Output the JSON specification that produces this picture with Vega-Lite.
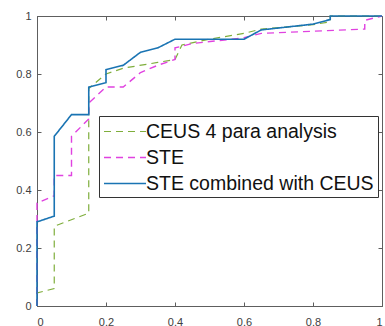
{
  "$schema": "https://vega.github.io/schema/vega-lite/v6.json",
  "width": 345,
  "height": 290,
  "autosize": {"type": "none"},
  "padding": {"left": 37, "top": 16, "right": 3, "bottom": 20},
  "background": "white",
  "config": {
    "font": "Liberation Sans",
    "view": {"stroke": "#5e5e5e", "strokeWidth": 1},
    "axis": {
      "grid": false,
      "title": null,
      "format": "~g",
      "labelFont": "Liberation Sans",
      "labelFontSize": 11,
      "labelColor": "#404040",
      "domainColor": "#5e5e5e",
      "tickColor": "#5e5e5e",
      "tickSize": -4
    },
    "legend": {
      "title": null,
      "orient": "none",
      "legendX": 62,
      "legendY": 100,
      "symbolType": "M-1,0H3",
      "symbolSize": 441,
      "labelFontSize": 19.5,
      "labelFont": "Liberation Sans",
      "labelColor": "#111",
      "labelLimit": 400,
      "labelOffset": 20,
      "rowPadding": 5,
      "padding": 4,
      "strokeColor": "#333",
      "fillColor": "white"
    }
  },
  "data": {
    "values": [
      {"s": "CEUS 4 para analysis", "x": 0, "y": 0},
      {"s": "CEUS 4 para analysis", "x": 0, "y": 0.045},
      {"s": "CEUS 4 para analysis", "x": 0.05, "y": 0.06},
      {"s": "CEUS 4 para analysis", "x": 0.05, "y": 0.275},
      {"s": "CEUS 4 para analysis", "x": 0.15, "y": 0.32},
      {"s": "CEUS 4 para analysis", "x": 0.15, "y": 0.75},
      {"s": "CEUS 4 para analysis", "x": 0.2, "y": 0.8},
      {"s": "CEUS 4 para analysis", "x": 0.25, "y": 0.82},
      {"s": "CEUS 4 para analysis", "x": 0.35, "y": 0.84},
      {"s": "CEUS 4 para analysis", "x": 0.4, "y": 0.85},
      {"s": "CEUS 4 para analysis", "x": 0.42, "y": 0.9},
      {"s": "CEUS 4 para analysis", "x": 0.5, "y": 0.92},
      {"s": "CEUS 4 para analysis", "x": 0.6, "y": 0.94},
      {"s": "CEUS 4 para analysis", "x": 0.65, "y": 0.955},
      {"s": "CEUS 4 para analysis", "x": 0.8, "y": 0.97},
      {"s": "CEUS 4 para analysis", "x": 0.85, "y": 0.98},
      {"s": "CEUS 4 para analysis", "x": 0.85, "y": 1},
      {"s": "CEUS 4 para analysis", "x": 1, "y": 1},
      {"s": "STE", "x": 0, "y": 0},
      {"s": "STE", "x": 0, "y": 0.355},
      {"s": "STE", "x": 0.05, "y": 0.38},
      {"s": "STE", "x": 0.05, "y": 0.45},
      {"s": "STE", "x": 0.1, "y": 0.45},
      {"s": "STE", "x": 0.1, "y": 0.585},
      {"s": "STE", "x": 0.15, "y": 0.645},
      {"s": "STE", "x": 0.15, "y": 0.7},
      {"s": "STE", "x": 0.2, "y": 0.755},
      {"s": "STE", "x": 0.25, "y": 0.755},
      {"s": "STE", "x": 0.3, "y": 0.805},
      {"s": "STE", "x": 0.35, "y": 0.83},
      {"s": "STE", "x": 0.4, "y": 0.85},
      {"s": "STE", "x": 0.4, "y": 0.89},
      {"s": "STE", "x": 0.45, "y": 0.905},
      {"s": "STE", "x": 0.6, "y": 0.925},
      {"s": "STE", "x": 0.65, "y": 0.94},
      {"s": "STE", "x": 0.95, "y": 0.955},
      {"s": "STE", "x": 0.95, "y": 0.985},
      {"s": "STE", "x": 1, "y": 1},
      {"s": "STE combined with CEUS", "x": 0, "y": 0},
      {"s": "STE combined with CEUS", "x": 0, "y": 0.29},
      {"s": "STE combined with CEUS", "x": 0.05, "y": 0.31},
      {"s": "STE combined with CEUS", "x": 0.05, "y": 0.585},
      {"s": "STE combined with CEUS", "x": 0.1, "y": 0.66},
      {"s": "STE combined with CEUS", "x": 0.15, "y": 0.66},
      {"s": "STE combined with CEUS", "x": 0.15, "y": 0.755},
      {"s": "STE combined with CEUS", "x": 0.2, "y": 0.77},
      {"s": "STE combined with CEUS", "x": 0.2, "y": 0.815},
      {"s": "STE combined with CEUS", "x": 0.25, "y": 0.83},
      {"s": "STE combined with CEUS", "x": 0.3, "y": 0.875},
      {"s": "STE combined with CEUS", "x": 0.35, "y": 0.89},
      {"s": "STE combined with CEUS", "x": 0.4, "y": 0.92},
      {"s": "STE combined with CEUS", "x": 0.6, "y": 0.92},
      {"s": "STE combined with CEUS", "x": 0.65, "y": 0.952},
      {"s": "STE combined with CEUS", "x": 0.8, "y": 0.972},
      {"s": "STE combined with CEUS", "x": 0.85, "y": 0.988},
      {"s": "STE combined with CEUS", "x": 0.85, "y": 1},
      {"s": "STE combined with CEUS", "x": 1, "y": 1}
    ]
  },
  "layer": [
    {
      "mark": {"type": "line", "strokeJoin": "miter"},
      "encoding": {
        "x": {"field": "x", "type": "quantitative", "scale": {"domain": [0, 1], "nice": false},
              "axis": {"orient": "bottom", "labelPadding": 14, "format": "~g", "values": [0, 0.2, 0.4, 0.6, 0.8, 1]}},
        "y": {"field": "y", "type": "quantitative", "scale": {"domain": [0, 1], "nice": false},
              "axis": {"orient": "left", "labelPadding": 10, "format": "~g", "values": [0, 0.2, 0.4, 0.6, 0.8, 1]}},
        "order": {"value": null},
        "color": {
          "field": "s", "type": "nominal",
          "scale": {"domain": ["CEUS 4 para analysis", "STE", "STE combined with CEUS"],
                    "range": ["#7fae3c", "#e042e0", "#1a74b3"]},
          "legend": {"title": null}
        },
        "strokeDash": {
          "field": "s", "type": "nominal",
          "scale": {"domain": ["CEUS 4 para analysis", "STE", "STE combined with CEUS"],
                    "range": [[7, 5], [7, 5], [1, 0]]},
          "legend": {"title": null}
        },
        "strokeWidth": {
          "field": "s", "type": "nominal",
          "scale": {"domain": ["CEUS 4 para analysis", "STE", "STE combined with CEUS"],
                    "range": [1.2, 1.6, 3]},
          "legend": {"title": null}
        }
      }
    },
    {
      "mark": {"type": "line", "opacity": 0},
      "encoding": {
        "x": {"field": "x", "type": "quantitative",
              "axis": {"orient": "top", "labels": false, "domain": false, "values": [0, 0.2, 0.4, 0.6, 0.8, 1]}},
        "y": {"field": "y", "type": "quantitative",
              "axis": {"orient": "right", "labels": false, "domain": false, "values": [0, 0.2, 0.4, 0.6, 0.8, 1]}},
        "order": {"value": null}
      }
    }
  ],
  "resolve": {"axis": {"x": "independent", "y": "independent"}}
}
